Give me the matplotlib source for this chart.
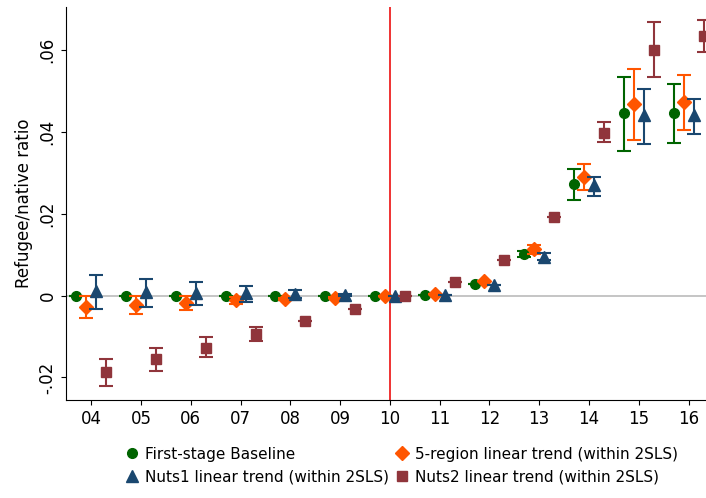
import numpy as np
import matplotlib.pyplot as plt

years = np.arange(4, 17)
ticklabels = ['04', '05', '06', '07', '08', '09', '10', '11', '12', '13', '14', '15', '16']

base = [0, 0, 0, 0, 0, 0, 0, 0.0001, 0.0027, 0.0101, 0.0272, 0.0446, 0.0446]
base_lo = [0, 0, 0, 0, 0, 0, 0, 0.0001, 0.0027, 0.0093, 0.0234, 0.0354, 0.0373]
base_hi = [0, 0, 0, 0, 0, 0, 0, 0.0001, 0.0027, 0.0109, 0.0310, 0.0534, 0.0517]

reg5 = [-0.0027, -0.0022, -0.0019, -0.0012, -0.0009, -0.0005, 0, 0.0003, 0.0036, 0.0113, 0.0290, 0.0469, 0.0474]
reg5_lo = [-0.0054, -0.0045, -0.0036, -0.0020, -0.0012, -0.0006, 0, 0.0003, 0.0036, 0.0102, 0.0258, 0.0380, 0.0405]
reg5_hi = [0.0000, 0.0000, 0.0000, -0.0003, -0.0006, -0.0004, 0, 0.0003, 0.0036, 0.0124, 0.0322, 0.0554, 0.0540]

nuts1 = [0.0010, 0.0009, 0.0007, 0.0005, 0.0003, 0.0002, 0, 0.0001, 0.0025, 0.0095, 0.0270, 0.0441, 0.0441]
nuts1_lo = [-0.0032, -0.0027, -0.0022, -0.0015, -0.0007, 0.0000, 0, 0.0001, 0.0025, 0.0087, 0.0244, 0.0371, 0.0395]
nuts1_hi = [0.0049, 0.0040, 0.0032, 0.0024, 0.0013, 0.0004, 0, 0.0001, 0.0025, 0.0103, 0.0290, 0.0505, 0.0480]

nuts2 = [-0.0188, -0.0156, -0.0127, -0.0095, -0.0063, -0.0032, 0, 0.0032, 0.0088, 0.0193, 0.0398, 0.0601, 0.0634]
nuts2_lo = [-0.0222, -0.0185, -0.0150, -0.0112, -0.0063, -0.0032, 0, 0.0032, 0.0088, 0.0193, 0.0375, 0.0534, 0.0596]
nuts2_hi = [-0.0154, -0.0127, -0.0102, -0.0076, -0.0063, -0.0032, 0, 0.0032, 0.0088, 0.0193, 0.0423, 0.0669, 0.0672]

series = [
    (base, base_lo, base_hi, -0.3, '#006400', 'o', 7, 'First-stage Baseline'),
    (reg5, reg5_lo, reg5_hi, -0.1, '#ff5500', 'D', 7, '5-region linear trend (within 2SLS)'),
    (nuts1, nuts1_lo, nuts1_hi, 0.1, '#1a476f', '^', 8, 'Nuts1 linear trend (within 2SLS)'),
    (nuts2, nuts2_lo, nuts2_hi, 0.3, '#90353b', 's', 6.5, 'Nuts2 linear trend (within 2SLS)'),
]

fig = plt.figure(figsize=(7.06, 4.98), dpi=100)
ax = fig.add_axes([0.094, 0.197, 0.906, 0.789])
ax.axhline(0, color='#bbbbbb', lw=1.2, zorder=0)
ax.axvline(10, color='#ee2222', lw=1.3, zorder=1)

handles = []
for v, lo, hi, off, c, m, ms, lab in series:
    v = np.array(v); lo = np.array(lo); hi = np.array(hi)
    x = years + off
    ax.errorbar(x, v, yerr=[v - lo, hi - v], fmt='none', ecolor=c, elinewidth=1.5, capsize=5, capthick=1.5)
    h, = ax.plot(x, v, m, color=c, ms=ms, ls='none', label=lab)
    handles.append(h)

ax.set_xlim(3.5, 16.35)
ax.set_ylim(-0.0255, 0.0705)
ax.set_xticks(years)
ax.set_xticklabels(ticklabels, fontsize=12)
ax.set_yticks([-0.02, 0, 0.02, 0.04, 0.06])
ax.set_yticklabels(['-.02', '0', '.02', '.04', '.06'], rotation=90, va='center', fontsize=12)
ax.set_ylabel('Refugee/native ratio', fontsize=12)
for s in ['top', 'right']:
    ax.spines[s].set_visible(False)

order = [handles[0], handles[2], handles[1], handles[3]]
fig.legend(handles=order, loc='lower left', ncol=2, frameon=False, fontsize=11,
           bbox_to_anchor=(0.155, 0.0), handletextpad=0.2, handlelength=1.2,
           columnspacing=0.3, labelspacing=0.5)
fig.savefig('out.png', dpi=100)
